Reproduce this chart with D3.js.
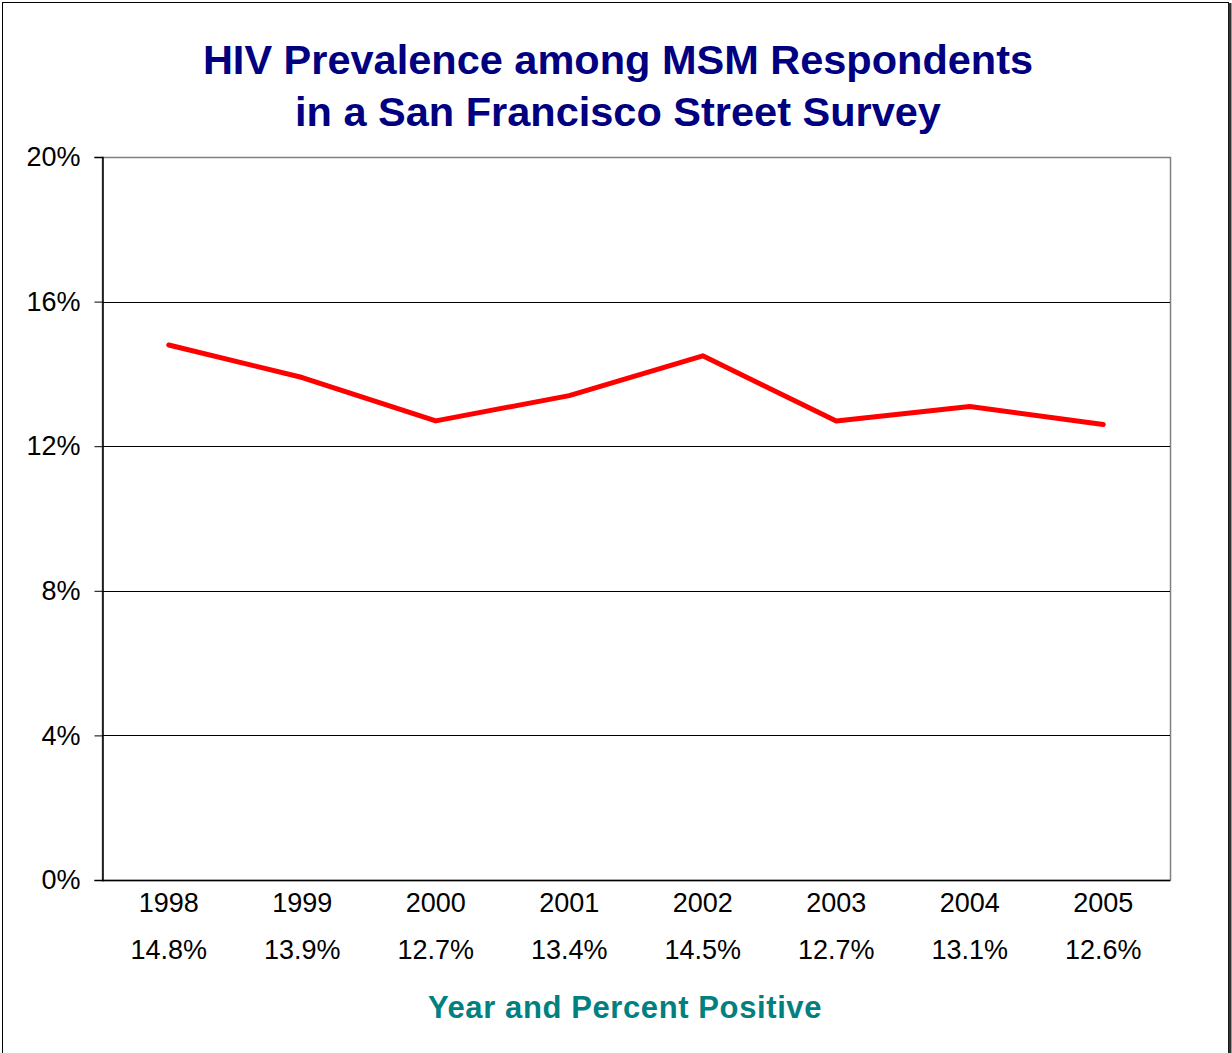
<!DOCTYPE html>
<html>
<head>
<meta charset="utf-8">
<script src="https://cdn.jsdelivr.net/npm/d3@7"></script>
<style>
  body { margin: 0; background: #fff; }
  svg { display: block; font-family: Arial, "Liberation Sans", sans-serif; }
</style>
</head>
<body>
<div class="main"></div>
<script>
// chart data
var years = ["1998", "1999", "2000", "2001", "2002", "2003", "2004", "2005"];
var prevalence = [14.8, 13.9, 12.7, 13.4, 14.5, 12.7, 13.1, 12.6];
var pctLabels = ["14.8%", "13.9%", "12.7%", "13.4%", "14.5%", "12.7%", "13.1%", "12.6%"];
var yTicks = [0, 4, 8, 12, 16, 20];
var titleLines = ["HIV Prevalence among MSM Respondents", "in a San Francisco Street Survey"];
var xTitle = "Year and Percent Positive";

var fullwidth = 1232, fullheight = 1053;
var margin = { top: 157, right: 62, bottom: 173, left: 102 };
var width = fullwidth - margin.left - margin.right;
var height = fullheight - margin.top - margin.bottom;

var root = d3.select(".main")
  .append("svg")
  .attr("width", fullwidth)
  .attr("height", fullheight);

// outer frame
root.append("rect")
  .attr("x", 2.5).attr("y", 2.5)
  .attr("width", 1226).attr("height", 1060)
  .attr("fill", "none")
  .attr("stroke", "#000")
  .attr("stroke-width", 1);
root.append("line")
  .attr("x1", 1230).attr("x2", 1230)
  .attr("y1", 3).attr("y2", fullheight)
  .attr("stroke", "#333")
  .attr("stroke-width", 3);

// title
root.append("text")
  .attr("x", 618)
  .attr("text-anchor", "middle")
  .attr("fill", "#000080")
  .attr("font-weight", "bold")
  .attr("font-size", 41.5)
  .selectAll("tspan")
  .data(titleLines)
  .join("tspan")
  .attr("x", 618)
  .attr("y", function(d, i) { return 74 + i * 52; })
  .text(function(d) { return d; });

var svg = root.append("g")
  .attr("transform", "translate(" + margin.left + "," + margin.top + ")");

var x = d3.scaleBand()
  .domain(years)
  .range([0, width]);

var y = d3.scaleLinear()
  .domain([0, 20])
  .range([height, 0]);

// plot border (gray top/right)
svg.append("rect")
  .attr("x", 0.5).attr("y", 0.5)
  .attr("width", width).attr("height", height)
  .attr("fill", "none")
  .attr("stroke", "#808080")
  .attr("stroke-width", 1.5);

// gridlines
svg.append("g")
  .selectAll("line")
  .data(yTicks.filter(function(d) { return d > 0 && d < 20; }))
  .join("line")
  .attr("x1", 0).attr("x2", width)
  .attr("y1", function(d) { return Math.round(y(d)) + 0.5; })
  .attr("y2", function(d) { return Math.round(y(d)) + 0.5; })
  .attr("stroke", "#000")
  .attr("stroke-width", 1);

// y axis
var yAxis = svg.append("g")
  .attr("transform", "translate(0.5,0)")
  .call(d3.axisLeft(y).tickValues(yTicks).tickSize(8).tickPadding(14)
    .tickFormat(function(d) { return d + "%"; }));
yAxis.select(".domain").attr("stroke", "#000").attr("stroke-width", 1.5);
yAxis.selectAll(".tick line").attr("stroke", "#000");
yAxis.selectAll(".tick text")
  .attr("font-family", "Arial, 'Liberation Sans', sans-serif")
  .attr("font-size", 27)
  .attr("fill", "#000");

// x axis baseline
svg.append("line")
  .attr("x1", 0).attr("x2", width)
  .attr("y1", height + 0.5).attr("y2", height + 0.5)
  .attr("stroke", "#000")
  .attr("stroke-width", 1.5);

// category labels
var xl = svg.append("g")
  .selectAll("g")
  .data(years)
  .join("g")
  .attr("transform", function(d) { return "translate(" + (x(d) + x.bandwidth() / 2) + "," + height + ")"; });
xl.append("text")
  .attr("y", 32)
  .attr("text-anchor", "middle")
  .attr("font-size", 27)
  .text(function(d) { return d; });
xl.append("text")
  .attr("y", 79)
  .attr("text-anchor", "middle")
  .attr("font-size", 27)
  .text(function(d, i) { return pctLabels[i]; });

// x title
root.append("text")
  .attr("x", 625)
  .attr("y", 1018)
  .attr("text-anchor", "middle")
  .attr("fill", "#008080")
  .attr("font-weight", "bold")
  .attr("font-size", 31)
  .attr("letter-spacing", 0.6)
  .text(xTitle);

// line
var line = d3.line()
  .x(function(d, i) { return x(years[i]) + x.bandwidth() / 2; })
  .y(function(d) { return y(d); });

svg.append("path")
  .datum(prevalence)
  .attr("fill", "none")
  .attr("stroke", "#ff0000")
  .attr("stroke-width", 5)
  .attr("stroke-linejoin", "round")
  .attr("stroke-linecap", "round")
  .attr("d", line);
</script>
</body>
</html>
